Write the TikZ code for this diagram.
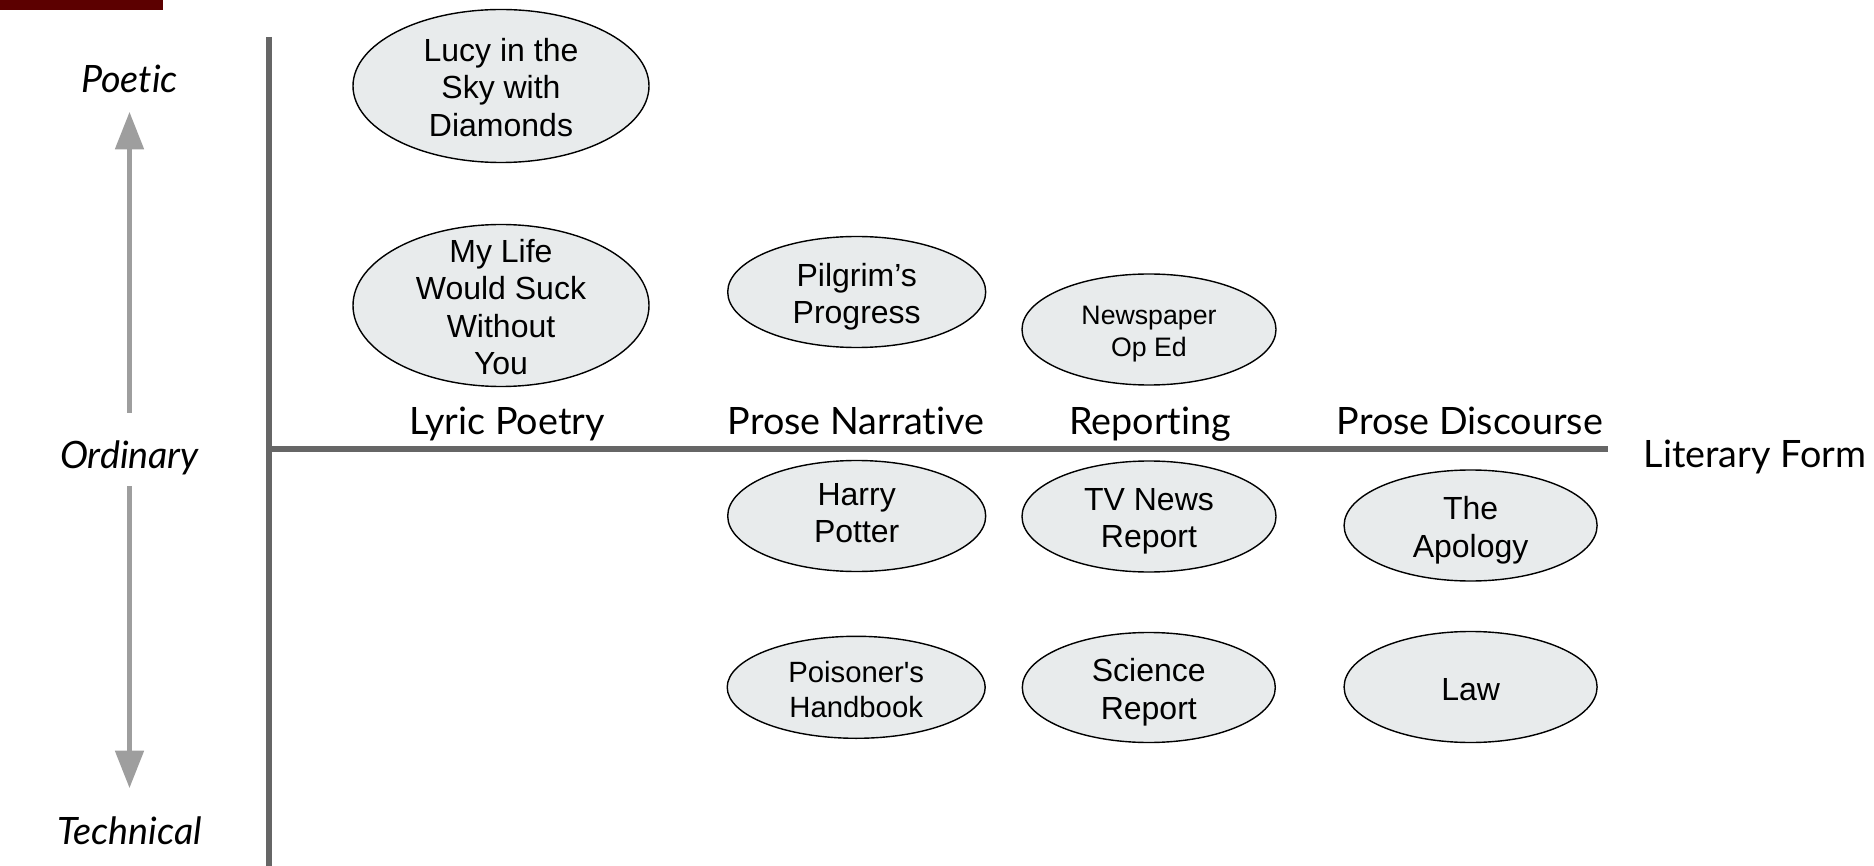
\documentclass[tikz,border=0pt]{standalone}
\usepackage{fontspec}
\setmainfont{Liberation Sans}
\newfontfamily\latofont{Lato}[Ligatures=NoCommon]
\usetikzlibrary{shapes.geometric,arrows.meta}
\definecolor{axisgray}{HTML}{666666}
\definecolor{arrowgray}{HTML}{9E9E9E}
\definecolor{ellfill}{RGB}{232,235,236}
\definecolor{barred}{HTML}{5C0000}
\tikzset{
  ell/.style={ellipse, draw=black, line width=1.4pt, fill=ellfill, inner sep=0pt},
  etxt/.style={align=center, inner sep=0pt, yshift=-4.8pt,
    execute at begin node={\rule{0pt}{1.18em}},
    execute at end node={\rule[-0.215em]{0pt}{0.215em}}},
  ltxt/.style={etxt, font=\fontsize{32}{37.6}\selectfont},
  stxt/.style={etxt, font=\fontsize{26.7}{32}\selectfont},
  mtxt/.style={etxt, font=\fontsize{29.3}{35}\selectfont},
  formlbl/.style={anchor=base, inner sep=0pt, font=\latofont\fontsize{37.7}{44}\selectfont},
  scalelbl/.style={anchor=base, inner sep=0pt, font=\latofont\itshape\fontsize{37.7}{44}\selectfont},
  axisline/.style={draw=axisgray, line width=5.3pt},
  scalearrow/.style={draw=arrowgray, line width=5.8pt, -{Triangle[length=37.6pt,width=27.7pt]}}
}
\begin{document}
\begin{tikzpicture}[x=1pt,y=-1pt]
\useasboundingbox (0,0) rectangle (1874,866);
% dark red bar
\fill[barred] (0,0) rectangle (163,10);
% axes
\coordinate (vtop) at (269,37);
\coordinate (vbot) at (269,866);
\coordinate (hleft) at (266.5,449);
\coordinate (hright) at (1607.5,449);
\draw[axisline] (vtop) -- (vbot);
\draw[axisline] (hleft) -- (hright);
% scale labels
\node[scalelbl] (poetic) at (129.5,92.4) {Poetic};
\node[scalelbl] (ordinary) at (129.5,468) {Ordinary};
\node[scalelbl] (technical) at (129.5,844) {Technical};
\coordinate (upstart) at (129.5,412.7);
\coordinate (uptip) at (129.5,111.7);
\coordinate (downstart) at (129.5,486);
\coordinate (downtip) at (129.5,788.3);
\draw[scalearrow] (upstart) -- (uptip);
\draw[scalearrow] (downstart) -- (downtip);
% form labels
\node[formlbl] (lyric) at (507,434.2) {Lyric Poetry};
\node[formlbl] (narr) at (856,434.2) {Prose Narrative};
\node[formlbl] (report) at (1150,434.2) {Reporting};
\node[formlbl] (disc) at (1470,434.2) {Prose Discourse};
\node[formlbl] (litform) at (1755,467.2) {Literary Form};
% ellipses
\node[ell, minimum width=296pt, minimum height=153pt, label={[ltxt]center:Lucy in the\\Sky with\\Diamonds}] (lucy) at (501,86) {};
\node[ell, minimum width=296pt, minimum height=162pt, label={[ltxt]center:My Life\\Would Suck\\Without\\You}] (mylife) at (501,305.5) {};
\node[ell, minimum width=258pt, minimum height=111pt, label={[ltxt]center:Pilgrim’s\\Progress}] (pilgrim) at (856.7,292) {};
\node[ell, minimum width=254pt, minimum height=111pt, label={[stxt]center:Newspaper\\Op Ed}] (oped) at (1149,329.5) {};
\node[ell, minimum width=258pt, minimum height=111pt, label={[ltxt, yshift=4.2pt]center:Harry\\Potter}] (harry) at (856.7,516) {};
\node[ell, minimum width=254pt, minimum height=111pt, label={[ltxt]center:TV News\\Report}] (tvnews) at (1149,516.5) {};
\node[ell, minimum width=253pt, minimum height=111pt, label={[ltxt]center:The\\Apology}] (apology) at (1470.6,525.5) {};
\node[ell, minimum width=258pt, minimum height=102pt, label={[mtxt]center:Poisoner\textquotesingle s\\Handbook}] (poison) at (856.2,687.3) {};
\node[ell, minimum width=253pt, minimum height=110pt, label={[ltxt]center:Science\\Report}] (science) at (1148.8,687.5) {};
\node[ell, minimum width=253pt, minimum height=111pt, label={[ltxt, yshift=7.2pt]center:Law}] (law) at (1470.6,687) {};
\end{tikzpicture}
\end{document}
